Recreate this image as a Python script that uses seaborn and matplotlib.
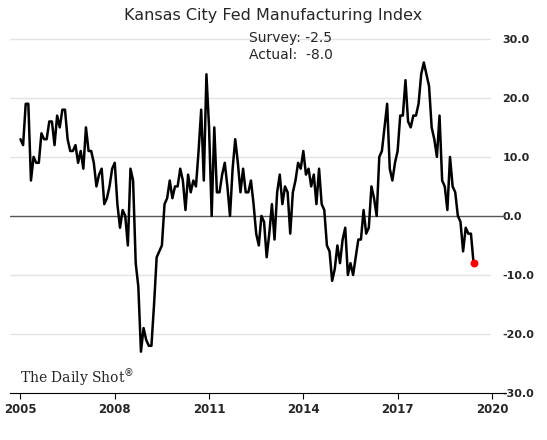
import matplotlib
matplotlib.use("Agg")
import matplotlib.pyplot as plt
import seaborn as sns
import numpy as np
import pandas as pd

values = [13,12,19,19,6,10,9,9,14,13,13,16,16,12,17,15,18,18,13,11,11,12,9,11,8,15,11,11,9,5,7,8,2,3,5,8,9,2,-2,1,0,-5,8,6,-8,-12,-23,-19,-21,-22,-22,-15,-7,-6,-5,2,3,6,3,5,5,8,6,1,7,4,6,5,11,18,6,24,15,0,15,4,4,7,9,5,0,8,13,9,4,8,4,4,6,2,-3,-5,0,-1,-7,-3,2,-4,4,7,2,5,4,-3,4,6,9,8,11,7,8,5,7,2,8,2,1,-5,-6,-11,-9,-5,-8,-4,-2,-10,-8,-10,-7,-4,-4,1,-3,-2,5,3,0,10,11,15,19,8,6,9,11,17,17,23,16,15,17,17,19,24,26,24,22,15,13,10,17,6,5,1,10,5,4,0,-1,-6,-2,-3,-3,-8]
year_labels = ["2005", "2008", "2011", "2014", "2017", "2020"]
y_ticks = [-30, -20, -10, 0, 10, 20, 30]
survey = -2.5
actual = -8.0

df = pd.DataFrame({"m": np.arange(len(values)), "v": values})

sns.set_style("white")
fig = plt.figure(figsize=(5.47, 4.40), dpi=100)
ax = fig.add_axes([10/547, 47/440, 495/547, 363/440])

for t in y_ticks[1:]:
    if t != 0:
        ax.axhline(t, color="#e3e3e3", lw=1, zorder=0, xmax=0.97)
ax.axhline(0, color="#555555", lw=1, zorder=1)
sns.lineplot(data=df, x="m", y="v", ax=ax, color="black", lw=1.8, zorder=3)
ax.scatter([df.m.iloc[-1]], [df.v.iloc[-1]], color="red", s=22, zorder=4)

ax.set_xlim(-4, 185)
ax.set_ylim(-30, 31.5)
ax.set_xticks([i * 36 for i in range(len(year_labels))])
ax.set_xticklabels(year_labels, fontweight="bold", fontsize=8.5)
ax.set_yticks(y_ticks)
ax.set_yticklabels([f"{t:.1f}" for t in y_ticks], fontweight="bold", fontsize=8)
ax.yaxis.tick_right()
ax.tick_params(axis="y", length=0, pad=-2)
ax.tick_params(axis="x", length=4, direction="out", bottom=True, color="black")
ax.set_xlabel("")
ax.set_ylabel("")
for s in ["top", "left", "right"]:
    ax.spines[s].set_visible(False)
ax.spines["bottom"].set_color("black")

fig.text(0.5, 0.965, "Kansas City Fed Manufacturing Index", ha="center", va="center", fontsize=11.5)
fig.text(249/547, 0.895, f"Survey: {survey}\nActual:  {actual}", ha="left", va="center", fontsize=10, linespacing=1.3)
fig.text(20/547, 62/440, "The Daily Shot$^{®}$", family="DejaVu Serif", fontsize=10, ha="left", va="center")

fig.savefig("out.png", dpi=100)
